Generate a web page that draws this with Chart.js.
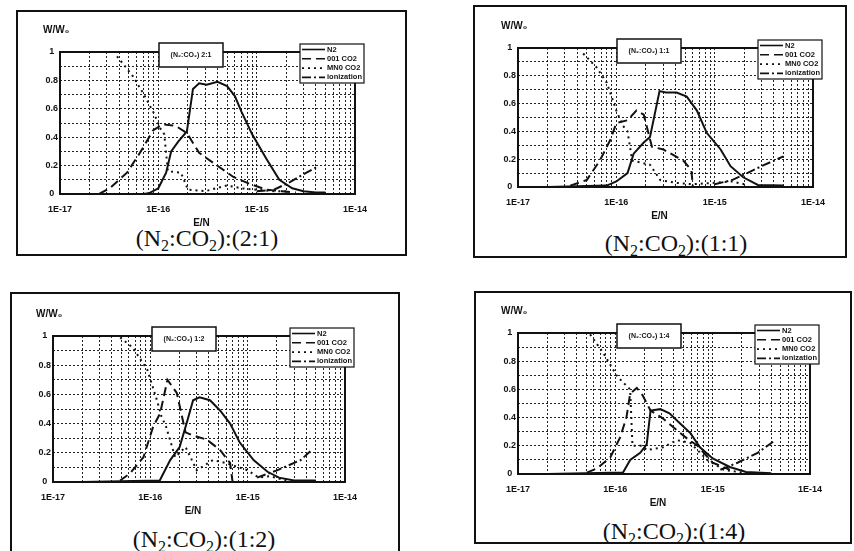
<!DOCTYPE html>
<html>
<head>
<meta charset="utf-8">
<script src="https://cdn.jsdelivr.net/npm/chart.js@4"></script>
<style>
  body { margin: 0; width: 854px; height: 551px; position: relative; overflow: hidden; background: #fff; }
  .frame { position: absolute; border: 2px solid #111; box-sizing: border-box; }
  .cap { position: absolute; transform: translate(-50%, -50%); white-space: nowrap; color: #111;
         font-family: "Liberation Serif", "DejaVu Serif", serif; font-size: 24px; }
  .cap sub { font-size: 16px; vertical-align: -5px; }
  canvas { position: absolute; }
</style>
</head>
<body>
<script>
// energy fraction W/W0 vs E/N as [E/N, value]
const seriesNames = ["N2", "001 CO2", "MN0 CO2", "ionization"];
const decades = [1e-17, 1e-16, 1e-15, 1e-14];
const ratios = ["2:1", "1:1", "1:2", "1:4"];

// (N2:CO2) 2:1
const n2_21 = [[2e-17,0],[7e-17,0],[8e-17,0.005],[1e-16,0.04],[1.2e-16,0.15],[1.35e-16,0.3],[1.6e-16,0.37],[1.95e-16,0.44],[2.25e-16,0.74],[2.6e-16,0.78],[3.1e-16,0.77],[4e-16,0.79],[5e-16,0.76],[6e-16,0.69],[7e-16,0.58],[9e-16,0.42],[1.25e-15,0.25],[1.7e-15,0.1],[2.3e-15,0.04],[3e-15,0.02],[4e-15,0.01],[5e-15,0.01]];
const c001_21 = [[2.5e-17,0],[3.2e-17,0.04],[4.8e-17,0.15],[6.5e-17,0.29],[8.9e-17,0.45],[1.1e-16,0.49],[1.5e-16,0.48],[1.95e-16,0.43],[2.6e-16,0.29],[3.6e-16,0.22],[5.8e-16,0.12],[8.6e-16,0.07],[1.26e-15,0.03],[1.8e-15,0.02],[2.5e-15,0.01]];
const mn0_21 = [[3.8e-17,0.97],[5.5e-17,0.83],[7e-17,0.71],[9e-17,0.57],[1.05e-16,0.46],[1.15e-16,0.42],[1.25e-16,0.16],[1.7e-16,0.15],[2e-16,0.03],[3e-16,0.02],[5e-16,0.06],[7e-16,0.04],[1e-15,0.03],[1.5e-15,0.02],[2e-15,0.02]];
const ion_21 = [[1e-15,0.02],[1.5e-15,0.03],[2.2e-15,0.085],[3e-15,0.14],[4.1e-15,0.19]];

// (N2:CO2) 1:1
const n2_11 = [[2e-17,0],[8e-17,0.01],[1e-16,0.04],[1.3e-16,0.1],[1.5e-16,0.24],[1.9e-16,0.32],[2.2e-16,0.36],[2.75e-16,0.69],[3.2e-16,0.68],[4.1e-16,0.68],[5.2e-16,0.65],[6.6e-16,0.55],[8.3e-16,0.39],[1.15e-15,0.27],[1.45e-15,0.15],[1.95e-15,0.07],[2.75e-15,0.015],[5e-15,0.01]];
const c001_11 = [[3.4e-17,0.01],[5e-17,0.05],[6.8e-17,0.19],[8.7e-17,0.34],[1e-16,0.46],[1.3e-16,0.48],[1.6e-16,0.55],[1.9e-16,0.52],[2.3e-16,0.29],[3e-16,0.27],[4.8e-16,0.19],[5.8e-16,0.12],[6e-16,0]];
const mn0_11 = [[4.6e-17,0.96],[6.3e-17,0.86],[8e-17,0.75],[1e-16,0.55],[1.17e-16,0.44],[1.3e-16,0.4],[1.45e-16,0.19],[2.2e-16,0.16],[2.8e-16,0.05],[4e-16,0.03],[6e-16,0.02],[1e-15,0.03],[1.5e-15,0.04],[2e-15,0.02]];
const ion_11 = [[1e-15,0.02],[1.5e-15,0.05],[2e-15,0.09],[3e-15,0.15],[5e-15,0.22]];

// (N2:CO2) 1:2
const n2_12 = [[2e-17,0],[1.25e-16,0.01],[1.6e-16,0.15],[2e-16,0.24],[2.4e-16,0.42],[2.75e-16,0.56],[3.2e-16,0.58],[4.1e-16,0.56],[5.2e-16,0.49],[6.6e-16,0.4],[8.3e-16,0.27],[1.15e-15,0.15],[1.6e-15,0.07],[2.1e-15,0.03],[3e-15,0.01],[5e-15,0.01]];
const c001_12 = [[4.9e-17,0.01],[6.2e-17,0.06],[8.5e-17,0.17],[1.07e-16,0.38],[1.26e-16,0.47],[1.5e-16,0.7],[1.87e-16,0.61],[2.3e-16,0.34],[2.7e-16,0.32],[3.8e-16,0.29],[5.2e-16,0.22],[6.6e-16,0.13],[7e-16,0]];
const mn0_12 = [[4.9e-17,0.99],[6.6e-17,0.92],[9.3e-17,0.77],[1.17e-16,0.56],[1.3e-16,0.45],[1.45e-16,0.38],[1.8e-16,0.17],[2.3e-16,0.24],[3e-16,0.08],[4.4e-16,0.15],[6e-16,0.13],[1e-15,0.08],[1.3e-15,0.03],[1.7e-15,0.04],[2.5e-15,0.01]];
const ion_12 = [[1.25e-15,0.03],[2e-15,0.08],[3.5e-15,0.15],[4.4e-15,0.21]];

// (N2:CO2) 1:4
const n2_14 = [[2e-17,0],[1.2e-16,0.01],[1.42e-16,0.1],[1.8e-16,0.15],[2.1e-16,0.21],[2.3e-16,0.45],[2.9e-16,0.46],[3.6e-16,0.43],[4.6e-16,0.36],[5.9e-16,0.29],[7.4e-16,0.19],[1e-15,0.11],[1.5e-15,0.05],[2.2e-15,0.015],[4e-15,0.005]];
const c001_14 = [[5.1e-17,0.01],[6.5e-17,0.04],[8.9e-17,0.12],[1.12e-16,0.26],[1.3e-16,0.4],[1.42e-16,0.57],[1.66e-16,0.61],[1.9e-16,0.56],[2.3e-16,0.45],[3e-16,0.4],[4.3e-16,0.31],[5.5e-16,0.25],[7e-16,0.2],[1e-15,0.08],[1.5e-15,0.03]];
const mn0_14 = [[5.5e-17,0.99],[7.5e-17,0.86],[1.05e-16,0.69],[1.42e-16,0.6],[1.5e-16,0.2],[1.9e-16,0.2],[2.1e-16,0.17],[3.1e-16,0.19],[4.3e-16,0.24],[5.9e-16,0.22],[8.8e-16,0.1],[1.3e-15,0.03],[2e-15,0.01]];
const ion_14 = [[1.2e-15,0.03],[1.8e-15,0.08],[2.9e-15,0.15],[4.2e-15,0.23]];

const seriesByPanel = [
  [n2_21, c001_21, mn0_21, ion_21],
  [n2_11, c001_11, mn0_11, ion_11],
  [n2_12, c001_12, mn0_12, ion_12],
  [n2_14, c001_14, mn0_14, ion_14],
];

// page layout of the four panels: plot box, outer frame, caption centre
const layout = [
  { plot: [60, 52, 355, 194], frame: [16, 10, 407, 256], cap: [207, 240] },
  { plot: [518, 48, 813, 187], frame: [473, 5, 847, 258], cap: [676, 245] },
  { plot: [53, 336, 345, 482], frame: [10, 292, 400, 570], cap: [204, 541] },
  { plot: [518, 333, 810, 474], frame: [474, 291, 852, 544], cap: [674, 533] },
];

const dashes = [[], [9, 5], [2, 4], [9, 3, 2, 3]];
const FONT = '"Liberation Sans", Arial, sans-serif';

const xTicks = [];
decades.forEach((d, i) => {
  if (i === decades.length - 1) { xTicks.push(d); return; }
  for (let m = 1; m <= 9; m++) xTicks.push(m * d);
});

const decor = {
  id: "decor",
  afterDatasetsDraw(chart, args, opts) {
    const { ctx, chartArea: a } = chart;
    ctx.save();
    ctx.strokeStyle = "#111";
    ctx.lineWidth = 2;
    ctx.setLineDash([]);
    ctx.strokeRect(a.left, a.top, a.right - a.left, a.bottom - a.top);

    ctx.fillStyle = "#111";
    ctx.font = "bold 10px " + FONT;
    ctx.textAlign = "left";
    ctx.textBaseline = "middle";
    ctx.fillText("W/W₀", a.left - 17, a.top - 22);
    ctx.textAlign = "center";
    ctx.fillText("E/N", (a.left + a.right) / 2 - 6, a.bottom + 29);

    // inset title box
    const tx = a.left + 99, ty = a.top - 9, tw = 64, th = 24;
    ctx.fillStyle = "#fff";
    ctx.fillRect(tx, ty, tw, th);
    ctx.lineWidth = 1.5;
    ctx.strokeRect(tx, ty, tw, th);
    ctx.fillStyle = "#111";
    ctx.font = "bold 7px " + FONT;
    ctx.fillText("(N₂:CO₂) " + opts.ratio, tx + tw / 2, ty + th / 2);

    // legend box
    const lw = 64, lh = 39, lx = a.right + 9 - lw, ly = a.top - 8;
    ctx.fillStyle = "#fff";
    ctx.fillRect(lx, ly, lw, lh);
    ctx.lineWidth = 1.2;
    ctx.strokeRect(lx, ly, lw, lh);
    chart.data.datasets.forEach((ds, i) => {
      const y = ly + 5.5 + i * 9.3;
      ctx.strokeStyle = "#111";
      ctx.lineWidth = 1.6;
      ctx.setLineDash(ds.borderDash);
      ctx.beginPath();
      ctx.moveTo(lx + 2, y);
      ctx.lineTo(lx + 25, y);
      ctx.stroke();
      ctx.setLineDash([]);
      ctx.fillStyle = "#111";
      ctx.textAlign = "left";
      ctx.font = "bold 7.5px " + FONT;
      ctx.fillText(ds.label, lx + 27, y);
    });
    ctx.restore();
  },
};

layout.forEach((p, k) => {
  const [L, T, R, B] = p.plot;
  const frame = document.createElement("div");
  frame.className = "frame";
  frame.style.left = p.frame[0] + "px";
  frame.style.top = p.frame[1] + "px";
  frame.style.width = (p.frame[2] - p.frame[0]) + "px";
  frame.style.height = (p.frame[3] - p.frame[1]) + "px";
  document.body.appendChild(frame);

  const cap = document.createElement("div");
  cap.className = "cap";
  cap.style.left = p.cap[0] + "px";
  cap.style.top = p.cap[1] + "px";
  cap.innerHTML = "(N<sub>2</sub>:CO<sub>2</sub>):(" + ratios[k] + ")";
  document.body.appendChild(cap);

  const W = R - L + 100, H = B - T + 105;
  const canvas = document.createElement("canvas");
  canvas.style.left = (L - 50) + "px";
  canvas.style.top = (T - 45) + "px";
  canvas.style.width = W + "px";
  canvas.style.height = H + "px";
  canvas.width = W;
  canvas.height = H;
  document.body.appendChild(canvas);

  new Chart(canvas, {
    type: "scatter",
    data: {
      datasets: seriesByPanel[k].map((rows, i) => ({
        label: seriesNames[i],
        data: rows.map((r) => ({ x: r[0], y: r[1] })),
        showLine: true,
        borderColor: "#111",
        borderWidth: 2,
        borderDash: dashes[i],
        pointRadius: 0,
        tension: 0,
      })),
    },
    options: {
      responsive: false,
      animation: false,
      layout: { padding: { left: 32, right: 50, top: 45, bottom: 35 } },
      plugins: { legend: { display: false }, tooltip: { enabled: false }, decor: { ratio: ratios[k] } },
      scales: {
        x: {
          type: "logarithmic",
          min: 1e-17,
          max: 1e-14,
          afterBuildTicks: (s) => { s.ticks = xTicks.map((v) => ({ value: v })); },
          afterFit: (s) => { s.height = 25; },
          grid: { color: "#222", lineWidth: 1, drawTicks: false },
          border: { display: false, dash: [2, 2] },
          ticks: {
            autoSkip: false,
            maxRotation: 0,
            padding: 10,
            color: "#111",
            font: { family: FONT, size: 9, weight: "bold" },
            callback: (v) => {
              const e = Math.log10(v);
              return Math.abs(e - Math.round(e)) < 1e-6 ? "1E" + Math.round(e) : "";
            },
          },
        },
        y: {
          min: 0,
          max: 1,
          afterFit: (s) => { s.width = 18; },
          grid: { color: "#222", lineWidth: 1, drawTicks: false },
          border: { display: false, dash: [2, 2] },
          ticks: {
            stepSize: 0.1,
            padding: 2,
            crossAlign: "center",
            color: "#111",
            font: { family: FONT, size: 9, weight: "bold" },
            callback: (v) => {
              const t = Math.round(v * 10);
              return t % 2 === 0 ? String(t / 10) : "";
            },
          },
        },
      },
    },
    plugins: [decor],
  });
});
</script>
</body>
</html>
